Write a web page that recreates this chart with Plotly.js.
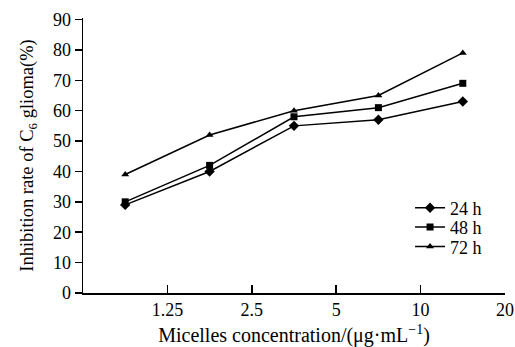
<!DOCTYPE html>
<html>
<head>
<meta charset="utf-8">
<script src="https://cdn.plot.ly/plotly-3.0.1.min.js"></script>
<style>html,body{margin:0;padding:0;background:#fff;}#chart{width:515px;height:347px;}</style>
</head>
<body>
<div id="chart"></div>
<script>
// Point positions on the axis (points sit between the concentration ticks)
const xIndex = [0.5, 1.5, 2.5, 3.5, 4.5];
const tickPositions = [1, 2, 3, 4, 5];
const tickLabels = ["1.25", "2.5", "5", "10", "20"];
const seriesNames = ["24 h", "48 h", "72 h"];
const values24h = [29, 40, 55, 57, 63];
const values48h = [30, 42, 58, 61, 69];
const values72h = [39, 52, 60, 65, 79];

const font = "Liberation Serif, Times New Roman, serif";
const symbols = ["diamond", "square", "triangle-up"];
const sizes = [8, 7, 7];
const allValues = [values24h, values48h, values72h];
const legendIds = ["legend", "legend2", "legend3"];
const legendY = [0.309, 0.239, 0.168];

const traces = allValues.map((vals, i) => ({
  x: xIndex,
  y: vals,
  name: seriesNames[i],
  legend: legendIds[i],
  type: "scatter",
  mode: "lines+markers",
  line: {color: "#000", width: 1.5},
  marker: {symbol: symbols[i], size: sizes[i], color: "#000"}
}));

const layout = {
  width: 515, height: 347,
  margin: {l: 83, r: 10, t: 18, b: 54},
  paper_bgcolor: "#fff", plot_bgcolor: "#fff",
  font: {family: font, size: 18, color: "#000"},
  showlegend: true,
  xaxis: {
    range: [0, 5], tickmode: "array", tickvals: tickPositions, ticktext: tickLabels,
    showgrid: false, zeroline: false, showline: true, linecolor: "#000", linewidth: 1.5,
    ticks: "inside", ticklen: 8, tickwidth: 1.5, tickcolor: "#000",
    tickfont: {family: font, size: 18, color: "#000"},
    title: {text: "Micelles concentration/(μg·mL<sup>−1</sup>)", font: {family: font, size: 20, color: "#000"}, standoff: 9}
  },
  yaxis: {
    range: [0, 90.5], tickmode: "array", tickvals: [0,10,20,30,40,50,60,70,80,90],
    showgrid: false, zeroline: false, showline: true, linecolor: "#000", linewidth: 1.5,
    ticks: "outside", ticklen: 7, tickwidth: 1.5, tickcolor: "#000",
    tickfont: {family: font, size: 18, color: "#000"},
    title: {text: "Inhibition rate of C<sub>6</sub> glioma(%)", font: {family: font, size: 18.5, color: "#000"}, standoff: 14}
  }
};
legendIds.forEach((id, i) => {
  layout[id] = {x: 0.775, y: legendY[i], xanchor: "left", yanchor: "middle",
    font: {family: font, size: 18, color: "#000"}, bgcolor: "rgba(0,0,0,0)", itemwidth: 30};
});

Plotly.newPlot("chart", traces, layout, {displayModeBar: false, staticPlot: true});
</script>
</body>
</html>
